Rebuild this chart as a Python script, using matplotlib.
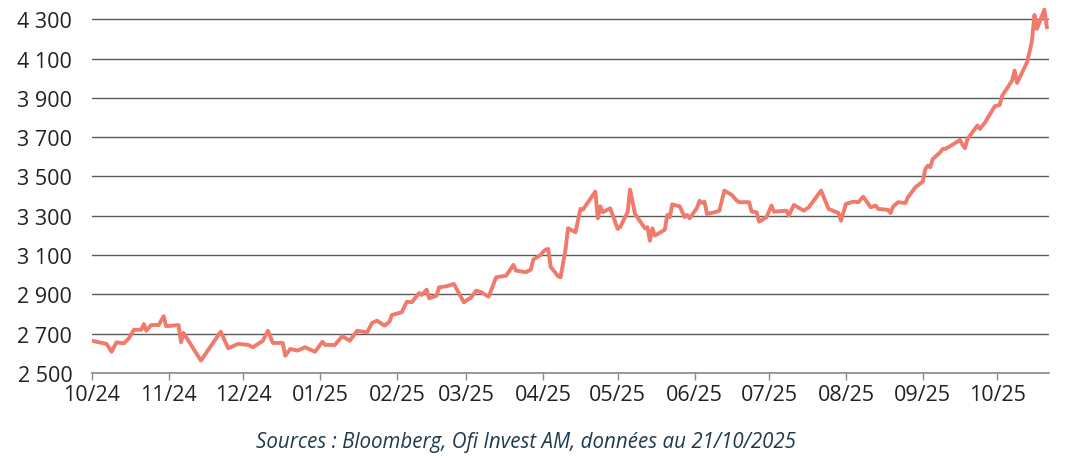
import matplotlib
matplotlib.use("Agg")
import matplotlib.pyplot as plt
import matplotlib.dates as mdates
import matplotlib.ticker as mticker
import pandas as pd

dates = [
    "2024-10-01", "2024-10-07", "2024-10-09", "2024-10-11", "2024-10-14", "2024-10-16",
    "2024-10-18", "2024-10-21", "2024-10-22", "2024-10-23", "2024-10-25", "2024-10-28",
    "2024-10-30", "2024-10-31", "2024-11-05", "2024-11-06", "2024-11-07", "2024-11-14",
    "2024-11-22", "2024-11-25", "2024-11-29", "2024-12-03", "2024-12-05", "2024-12-09",
    "2024-12-11", "2024-12-13", "2024-12-17", "2024-12-18", "2024-12-20", "2024-12-23",
    "2024-12-26", "2024-12-30", "2025-01-02", "2025-01-03", "2025-01-07", "2025-01-10",
    "2025-01-13", "2025-01-16", "2025-01-20", "2025-01-22", "2025-01-24", "2025-01-27",
    "2025-01-29", "2025-01-30", "2025-02-03", "2025-02-05", "2025-02-07", "2025-02-10",
    "2025-02-11", "2025-02-13", "2025-02-14", "2025-02-17", "2025-02-18", "2025-02-21",
    "2025-02-24", "2025-02-28", "2025-03-03", "2025-03-05", "2025-03-07", "2025-03-10",
    "2025-03-13", "2025-03-17", "2025-03-18", "2025-03-20", "2025-03-21", "2025-03-25",
    "2025-03-27", "2025-03-28", "2025-03-31", "2025-04-01", "2025-04-02", "2025-04-03",
    "2025-04-04", "2025-04-07", "2025-04-08", "2025-04-10", "2025-04-11", "2025-04-14",
    "2025-04-16", "2025-04-17", "2025-04-22", "2025-04-23", "2025-04-24", "2025-04-25",
    "2025-04-28", "2025-05-01", "2025-05-02", "2025-05-05", "2025-05-06", "2025-05-08",
    "2025-05-12", "2025-05-13", "2025-05-14", "2025-05-15", "2025-05-16", "2025-05-20",
    "2025-05-21", "2025-05-22", "2025-05-23", "2025-05-26", "2025-05-28", "2025-05-29",
    "2025-05-30", "2025-06-02", "2025-06-03", "2025-06-04", "2025-06-05", "2025-06-06",
    "2025-06-10", "2025-06-11", "2025-06-13", "2025-06-16", "2025-06-18", "2025-06-19",
    "2025-06-23", "2025-06-24", "2025-06-26", "2025-06-27", "2025-06-30", "2025-07-02",
    "2025-07-03", "2025-07-08", "2025-07-09", "2025-07-11", "2025-07-15", "2025-07-17",
    "2025-07-22", "2025-07-25", "2025-07-29", "2025-07-30", "2025-08-01", "2025-08-04",
    "2025-08-06", "2025-08-08", "2025-08-11", "2025-08-13", "2025-08-14", "2025-08-18",
    "2025-08-19", "2025-08-20", "2025-08-22", "2025-08-25", "2025-08-26", "2025-08-29",
    "2025-09-01", "2025-09-02", "2025-09-03", "2025-09-04", "2025-09-05", "2025-09-08",
    "2025-09-09", "2025-09-10", "2025-09-12", "2025-09-16", "2025-09-17", "2025-09-18",
    "2025-09-19", "2025-09-23", "2025-09-24", "2025-09-26", "2025-09-30", "2025-10-02",
    "2025-10-03", "2025-10-07", "2025-10-08", "2025-10-09", "2025-10-13", "2025-10-14",
    "2025-10-15", "2025-10-16", "2025-10-17", "2025-10-20", "2025-10-21",
]
gold = [
    2664, 2648, 2608, 2656, 2651, 2677,
    2720, 2720, 2749, 2715, 2744, 2744,
    2789, 2738, 2744, 2656, 2704, 2563,
    2710, 2626, 2648, 2643, 2631, 2664,
    2715, 2653, 2653, 2588, 2622, 2614,
    2631, 2608, 2659, 2643, 2643, 2687,
    2664, 2715, 2707, 2755, 2766, 2741,
    2761, 2795, 2809, 2863, 2860, 2907,
    2897, 2924, 2880, 2893, 2936, 2941,
    2953, 2860, 2885, 2919, 2911, 2888,
    2987, 2995, 3013, 3050, 3021, 3013,
    3026, 3077, 3101, 3117, 3128, 3131,
    3040, 2992, 2987, 3131, 3237, 3216,
    3335, 3331, 3423, 3287, 3348, 3318,
    3338, 3233, 3242, 3318, 3433, 3309,
    3236, 3242, 3173, 3236, 3199, 3229,
    3304, 3293, 3358, 3348, 3293, 3304,
    3287, 3340, 3377, 3365, 3372, 3309,
    3321, 3326, 3428, 3406, 3377, 3369,
    3369, 3321, 3318, 3270, 3293, 3352,
    3321, 3326, 3301, 3355, 3326, 3343,
    3428, 3335, 3314, 3275, 3360, 3372,
    3369, 3397, 3343, 3352, 3335, 3330,
    3314, 3346, 3369, 3365, 3394, 3445,
    3474, 3538, 3555, 3547, 3589, 3623,
    3640, 3640, 3654, 3686, 3661, 3644,
    3691, 3759, 3742, 3773, 3857, 3864,
    3911, 3988, 4039, 3976, 4081, 4132,
    4191, 4322, 4251, 4349, 4260,
]
month_ticks = ["2024-10-01", "2024-11-01", "2024-12-01", "2025-01-01", "2025-02-01",
               "2025-03-01", "2025-04-01", "2025-05-01", "2025-06-01", "2025-07-01",
               "2025-08-01", "2025-09-01", "2025-10-01"]
y_ticks = [2500, 2700, 2900, 3100, 3300, 3500, 3700, 3900, 4100, 4300]
source_text = "Sources : Bloomberg, Ofi Invest AM, données au 21/10/2025"

plt.rcParams['font.family'] = ['Open Sans', 'DejaVu Sans']

x = pd.to_datetime(dates)
fig = plt.figure(figsize=(10.69, 4.60), dpi=100)
ax = fig.add_axes([0.0858, 0.187, 0.8958, 0.8117])

ax.plot(x, gold, color="#F07A6C", lw=2.8, solid_joinstyle="round", zorder=3)

ax.set_ylim(2500, 4400)
ax.set_xlim(pd.Timestamp("2024-10-01"), pd.Timestamp("2025-10-22"))
ax.set_yticks(y_ticks)
ax.yaxis.set_major_formatter(mticker.FuncFormatter(lambda v, p: f"{int(v):,}".replace(",", " ")))
ax.set_xticks(pd.to_datetime(month_ticks))
ax.xaxis.set_major_formatter(mdates.DateFormatter("%m/%y"))

ax.grid(axis="y", color="#5a5a5a", lw=1.0)
ax.set_axisbelow(True)
for s in ["top", "right", "left"]:
    ax.spines[s].set_visible(False)
ax.spines["bottom"].set_color("#8a8a8a")
ax.spines["bottom"].set_linewidth(1.2)

ax.tick_params(axis="y", length=0, pad=14, labelsize=15.5, labelcolor="#222222")
ax.tick_params(axis="x", length=5, width=1, color="#8a8a8a", pad=3, labelsize=15.5, labelcolor="#222222")

fig.text(0.492, 0.038, source_text, ha="center", va="center", fontsize=14.8,
         style="italic", color="#1f3b4d")

fig.savefig("out.png", dpi=100)
